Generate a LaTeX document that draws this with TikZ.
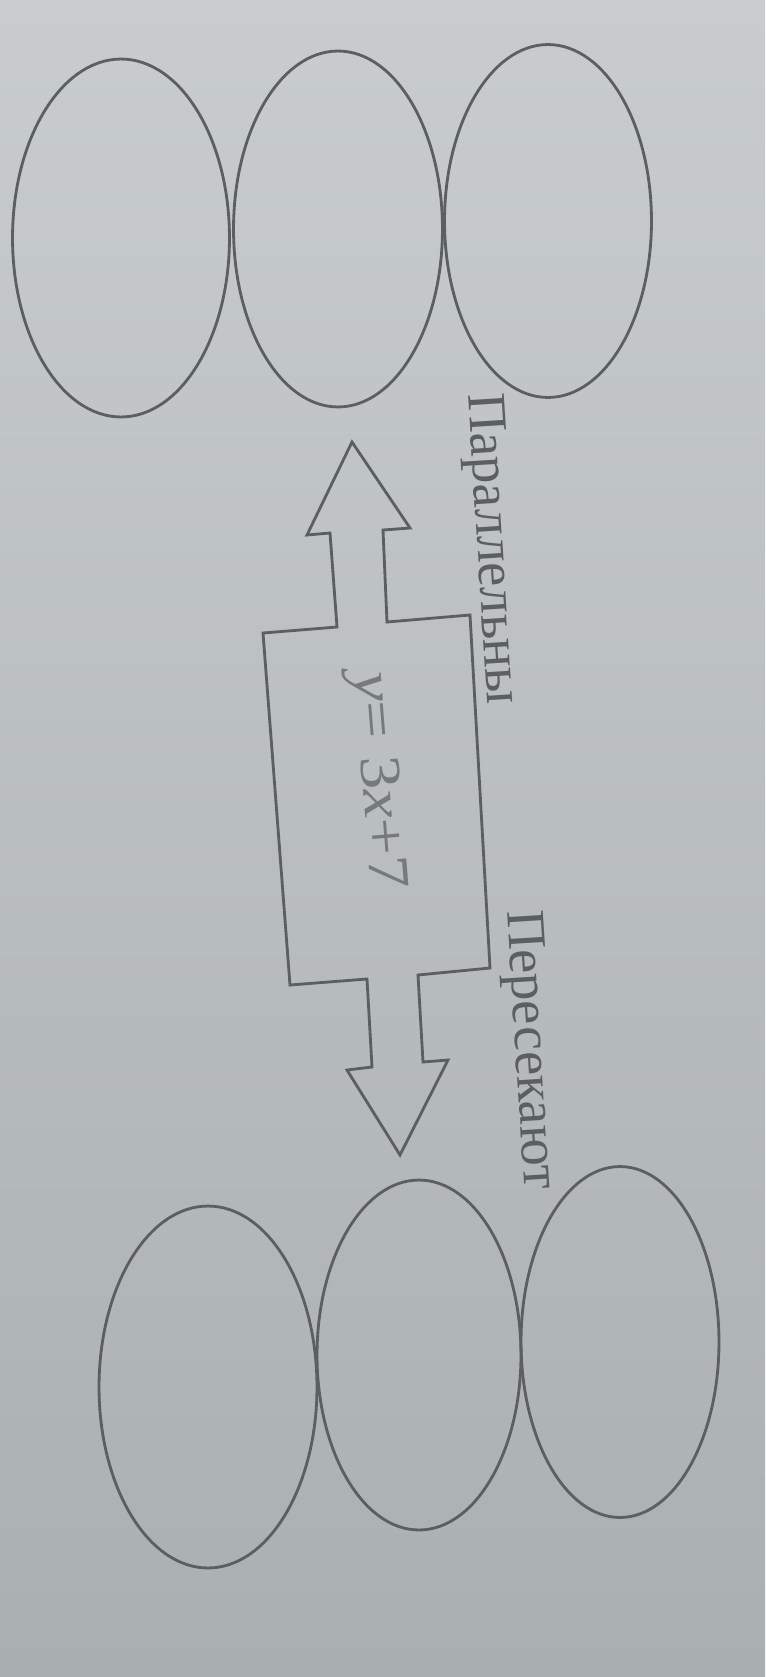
\documentclass[tikz,border=0pt]{standalone}
\usepackage{fontspec}
\setmainfont{Liberation Serif}
\usepackage{tikz}
\usetikzlibrary{shapes.geometric}

\definecolor{ink}{RGB}{92,95,98}
\definecolor{pale}{RGB}{118,122,125}
\definecolor{papertop}{RGB}{200,204,204}
\definecolor{paperbot}{RGB}{170,175,176}

\begin{document}
\begin{tikzpicture}
	[x=0.02cm, y=-0.02cm, line width=1.6pt, main/.style = {draw=ink, ellipse, inner sep=0pt},
	 lab/.style = {text=ink, font=\fontsize{31}{36}\selectfont, rotate=-86.4, anchor=base west, inner sep=0pt}]
	\shade[top color=papertop, bottom color=paperbot] (0,0) rectangle (765,1677);
	\useasboundingbox (0,0) rectangle (765,1677);
	\node[main, minimum width=4.34cm, minimum height=7.16cm] (1) at (121,238) {};
	\node[main, minimum width=4.18cm, minimum height=7.12cm] (2) at (338,229) {};
	\node[main, minimum width=4.14cm, minimum height=7.06cm] (3) at (548,221) {};
	\node[main, minimum width=4.36cm, minimum height=7.24cm] (4) at (208,1387) {};
	\node[main, minimum width=4.08cm, minimum height=7.00cm] (5) at (419,1355) {};
	\node[main, minimum width=3.96cm, minimum height=7.02cm] (6) at (620,1342) {};
    
    \draw[ink, line join=miter] (352,442) -- (410,528) -- (383,530) -- (387,622) -- (470,615)
      -- (490,968) -- (418,975) -- (423,1062) -- (448,1060) -- (400,1155) -- (347,1070)
      -- (372,1067) -- (367,979) -- (290,985) -- (263,633) -- (337,627) -- (330,533)
      -- (307,535) -- cycle;
    
    \node[lab, text=pale, font=\fontsize{33}{38}\selectfont, rotate=1] (7) at (354,672) {\scalebox{1.15}[1]{\textit{y}= 3\textit{x}+7}};
    \node[lab] (8) at (468,393) {Параллельны};
    \node[lab] (9) at (507,910) {Пересекают};
    
\end{tikzpicture}
\end{document}
